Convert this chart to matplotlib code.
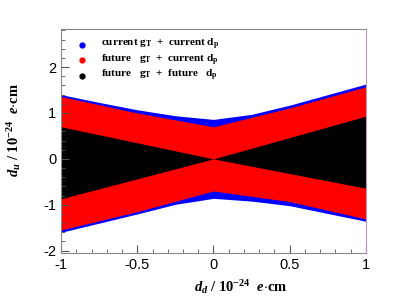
import matplotlib
matplotlib.use("Agg")
import matplotlib.pyplot as plt
from matplotlib.ticker import MultipleLocator
import numpy as np

plt.rcParams["mathtext.fontset"] = "custom"
plt.rcParams["mathtext.rm"] = "Liberation Serif:bold"
plt.rcParams["mathtext.it"] = "Liberation Serif:italic:bold"
plt.rcParams["mathtext.bf"] = "Liberation Serif:bold"

# 读图估计的边界 (d_d, d_u)
dd_blue = [-1.0, -0.75, -0.5, -0.25, 0.0, 0.25, 0.5, 0.75, 1.0]
blue_up = [1.40, 1.23, 1.07, 0.94, 0.86, 0.97, 1.17, 1.40, 1.63]
blue_lo = [-1.60, -1.40, -1.20, -0.99, -0.86, -0.92, -1.02, -1.19, -1.36]

dd_red = [-1.0, -0.5, 0.0, 0.5, 1.0]
red_up = [1.36, 1.00, 0.70, 1.11, 1.57]
red_lo = [-1.55, -1.15, -0.70, -0.93, -1.31]

dd_black = [-1.0, 0.0, 1.0]
black_up = [0.70, 0.0, 0.93]
black_lo = [-0.87, 0.0, -0.64]

legend_labels = [r"current g$_\mathregular{T}$  +  current d$_\mathregular{p}$",
                 r"future   g$_\mathregular{T}$  +  current d$_\mathregular{p}$",
                 r"future   g$_\mathregular{T}$  +  future   d$_\mathregular{p}$"]
colors = ["#0000ff", "#ff0000", "#000000"]

fig = plt.figure(figsize=(4.07, 2.99), dpi=100)
ax = fig.add_axes([0.150, 0.154, 0.749, 0.749])

ax.fill_between(dd_blue, blue_lo, blue_up, color=colors[0], lw=0)
ax.fill_between(dd_red, red_lo, red_up, color=colors[1], lw=0)
ax.fill_between(dd_black, black_lo, black_up, color=colors[2], lw=0)

ax.set_xlim(-1, 1)
ax.set_ylim(-2.05, 2.83)
ax.xaxis.set_major_locator(MultipleLocator(0.5))
ax.xaxis.set_minor_locator(MultipleLocator(0.1))
ax.yaxis.set_major_locator(MultipleLocator(1))
ax.yaxis.set_minor_locator(MultipleLocator(0.2))
ax.xaxis.set_major_formatter(plt.FuncFormatter(lambda v, p: "%g" % v))
ax.yaxis.set_major_formatter(plt.FuncFormatter(lambda v, p: "%g" % v))
ax.tick_params(which="both", direction="in", colors="#555555", labelcolor="black",
               labelsize=10.5, top=False, right=False)
ax.tick_params(which="major", length=6)
ax.tick_params(which="minor", length=3)
for lab in ax.get_xticklabels() + ax.get_yticklabels():
    lab.set_family("Liberation Sans")
for s in ["left", "bottom", "top"]:
    ax.spines[s].set_color("#888888")
ax.spines["right"].set_color("#b898b8")

ax.set_xlabel(r"$\mathit{d}_\mathit{d}$ / 10$^{-24}$  $\mathit{e}$$\cdot$cm",
              family="Liberation Serif", fontweight="bold", fontsize=10.5)
ax.xaxis.set_label_coords(0.59, -0.11)
ax.set_ylabel(r"$\mathit{d}_\mathit{u}$ / 10$^{-24}$  $\mathit{e}$$\cdot$cm",
              family="Liberation Serif", fontweight="bold", fontsize=10.5)
ax.yaxis.set_label_coords(-0.125, 0.55)

for i, (lab, c) in enumerate(zip(legend_labels, colors)):
    y = 0.93 - i * 0.069
    ax.plot([0.07], [y], "o", color=c, ms=3.5, transform=ax.transAxes, clip_on=False)
    ax.text(0.13, y, lab, transform=ax.transAxes, va="center", ha="left",
            family="Liberation Serif", fontweight="bold", fontsize=8)

fig.savefig("out.png", dpi=100)
